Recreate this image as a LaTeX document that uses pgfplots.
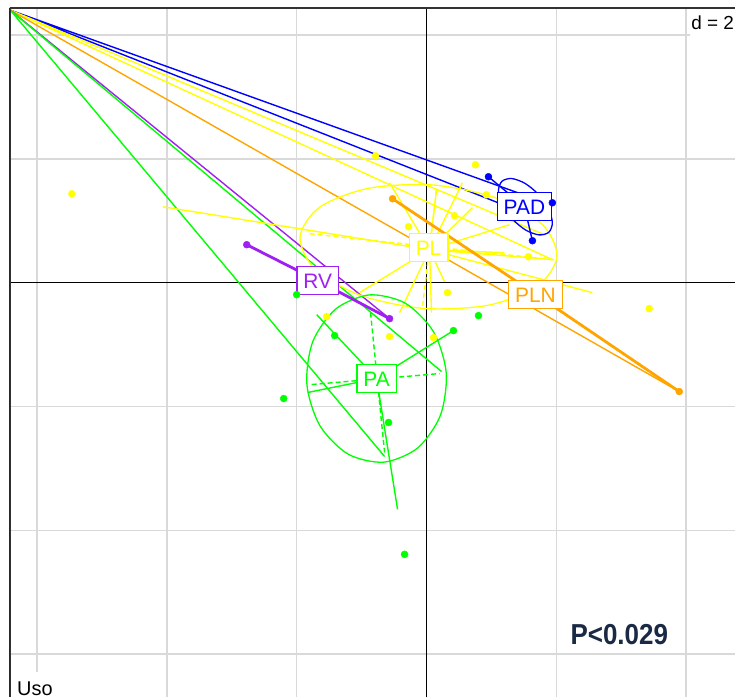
\documentclass[border=0pt]{standalone}
\usepackage{pgfplots}
\pgfplotsset{compat=1.18}
\usepackage{fontspec}
\setmainfont{Liberation Sans}
\definecolor{cblue}{RGB}{0,0,255}
\definecolor{cyellow}{RGB}{255,255,0}
\definecolor{corange}{RGB}{255,165,0}
\definecolor{cpurple}{RGB}{160,32,240}
\definecolor{cgreen}{RGB}{0,255,0}
\definecolor{cnavy}{RGB}{26,42,68}
\definecolor{cgrid}{RGB}{217,217,217}
\tikzset{
  lab/.style={fill=white, line width=1.4bp, font=\fontsize{21}{21}\selectfont,
    inner xsep=6.5bp, inner ysep=6.5bp, text height=15bp, text depth=0bp},
  dsh/.style={dash pattern=on 5bp off 3bp},
}
\begin{document}
\begin{tikzpicture}
\begin{axis}[
  scale only axis, width=726bp, height=690bp,
  xmin=-6.415, xmax=4.754, ymin=-6.694, ymax=4.435,
  axis x line*=top, axis y line*=left,
  axis line style={-, draw=black!85, line width=1.6bp},
  xtick={-6,-4,-2,0,2,4}, ytick={-6,-4,-2,0,2,4},
  xticklabels={{},{},{},{},{},{}}, yticklabels={{},{},{},{},{},{}}, major tick length=0pt,
  grid=major, grid style={draw=cgrid, line width=1.6bp},
  unbounded coords=jump,
]
% zero lines
\addplot[black, line width=1.4bp] coordinates {(0,-6.694) (0,4.435)};
\addplot[black, line width=1.4bp] coordinates {(-6.415,0) (4.754,0)};

% ---- lines from the corner sample
\addplot[cblue, line width=1.4bp] coordinates {(-6.41,4.40) (1.492,1.419) (nan,nan) (-6.41,4.40) (1.492,1.129)};
\addplot[cyellow, line width=1.4bp] coordinates {(-6.41,4.40) (1.815,0.774) (nan,nan) (-6.41,4.40) (1.938,0.371)};
\addplot[corange, line width=1.4bp] coordinates {(-6.41,4.40) (3.892,-1.758)};
\addplot[cpurple, line width=1.4bp] coordinates {(-6.41,4.40) (-0.569,-0.581)};
\addplot[cgreen, line width=1.4bp] coordinates {(-6.41,4.40) (-0.646,-2.806) (nan,nan) (-6.41,4.40) (0.231,-1.435)};

% ---- PL (yellow)
\addplot[cyellow, line width=1.3bp, smooth cycle, tension=0.5] coordinates {
(2.009,0.421) (1.708,-0.056) (0.957,-0.363) (-0.043,-0.416) (-1.022,-0.203) (-1.720,0.221)
(-1.948,0.740) (-1.646,1.218) (-0.895,1.523) (0.105,1.577) (1.083,1.363) (1.782,0.940)};
\addplot[cyellow, line width=1.4bp] coordinates {
(0.046,0.532) (-4.062,1.226) (nan,nan)
(0.046,0.532) (-0.569,1.613) (nan,nan)
(0.046,0.532) (0.154,1.500) (nan,nan)
(0.046,0.532) (0.554,1.613) (nan,nan)
(0.046,0.532) (0.708,1.210) (nan,nan)
(0.046,0.532) (1.277,0.935) (nan,nan)
(0.046,0.532) (1.200,0.484) (nan,nan)
(0.046,0.532) (1.969,0.371) (nan,nan)
(0.046,0.532) (2.554,-0.161) (nan,nan)
(0.046,0.532) (-1.031,-0.161) (nan,nan)
(0.046,0.532) (-0.415,-0.484) (nan,nan)
(0.046,0.532) (0.077,-0.484) (nan,nan)
(0.046,0.532) (0.277,0.016)};
\addplot[cyellow, line width=1.4bp, dsh] coordinates {(-1.8,0.790) (1.938,0.371) (nan,nan) (0.154,1.5) (-0.062,-0.387)};

% ---- PA (green)
\addplot[cgreen, line width=1.3bp, smooth cycle, tension=0.5] coordinates {
(0.303,-1.450) (0.215,-2.139) (-0.135,-2.668) (-0.657,-2.898) (-1.208,-2.768) (-1.642,-2.310)
(-1.842,-1.647) (-1.754,-0.958) (-1.402,-0.429) (-0.882,-0.198) (-0.329,-0.331) (0.105,-0.789)};
\addplot[cgreen, line width=1.4bp] coordinates {
(-0.769,-1.548) (-1.692,-0.516) (nan,nan)
(-0.769,-1.548) (0.415,-0.774) (nan,nan)
(-0.769,-1.548) (-1.831,-1.774) (nan,nan)
(-0.769,-1.548) (-0.446,-3.661)};
\addplot[cgreen, line width=1.4bp, dsh] coordinates {(-1.769,-1.645) (0.2,-1.468) (nan,nan) (-0.862,-0.484) (-0.646,-2.742)};

% ---- PAD (blue)
\addplot[cblue, line width=1.3bp, smooth cycle, tension=0.5] coordinates {
(1.885,0.815) (1.735,0.771) (1.529,0.848) (1.320,1.029) (1.168,1.260) (1.108,1.484)
(1.162,1.637) (1.311,1.681) (1.517,1.603) (1.726,1.423) (1.880,1.190) (1.938,0.968)};
\addplot[cblue, line width=1.4bp] coordinates {
(1.508,1.226) (0.954,1.710) (nan,nan)
(1.508,1.226) (1.938,1.290) (nan,nan)
(1.508,1.226) (1.631,0.677)};

% ---- PLN (orange) and RV (purple)
\addplot[corange, line width=2.8bp] coordinates {(-0.523,1.355) (1.692,-0.194) (3.892,-1.758)};
\addplot[cpurple, line width=2.8bp] coordinates {(-2.769,0.613) (-1.677,0.032) (-0.569,-0.581)};

% ---- points
\addplot[only marks, mark=*, mark size=3.5bp, cyellow] coordinates {
(-5.462,1.435) (-0.785,2.048) (0.754,1.903) (0.923,1.419) (0.431,1.081) (-0.277,0.903)
(1.569,0.419) (0.323,-0.161) (3.431,-0.419) (-1.538,-0.548) (-0.569,-0.871) (0.108,-0.887)};
\addplot[only marks, mark=*, mark size=3.5bp, cgreen] coordinates {
(-2.0,-0.194) (-1.415,-0.855) (0.415,-0.774) (0.8,-0.532) (-2.2,-1.871) (-0.585,-2.258) (-0.338,-4.387)};
\addplot[only marks, mark=*, mark size=3.5bp, cblue] coordinates {(0.954,1.710) (1.938,1.290) (1.631,0.677)};
\addplot[only marks, mark=*, mark size=3.5bp, corange] coordinates {(-0.523,1.355) (3.892,-1.758)};
\addplot[only marks, mark=*, mark size=3.5bp, cpurple] coordinates {(-2.769,0.613) (-0.569,-0.581)};

% ---- class labels
\node[lab, draw=cblue, text=cblue] at (axis cs:1.508,1.226) {PAD};
\node[lab, draw=cyellow, text=cyellow] at (axis cs:0.031,0.565) {PL};
\node[lab, draw=corange, text=corange] at (axis cs:1.677,-0.194) {PLN};
\node[lab, draw=cpurple, text=cpurple] at (axis cs:-1.677,0.032) {RV};
\node[lab, draw=cgreen, text=cgreen] at (axis cs:-0.769,-1.548) {PA};

% ---- annotations
\node[anchor=north east, fill=white, font=\fontsize{19}{19}\selectfont, inner xsep=1bp, inner ysep=7bp, text height=14bp, text depth=0bp]
  at (rel axis cs:1,1) {d = 2};
\node[anchor=base west, fill=white, font=\fontsize{20}{20}\selectfont, inner xsep=7bp, inner ysep=9bp, text height=14.5bp, text depth=2bp]
  at (axis cs:-6.415,-6.661) {Uso};
\node[text=cnavy, font=\bfseries\fontsize{29}{29}\selectfont, xscale=0.9] at (axis cs:2.969,-5.677) {P<0.029};
% frame
\addplot[black!80, line width=2bp] coordinates {(-6.415,-6.694) (-6.415,4.435) (4.754,4.435)};
\end{axis}
\path ([shift={(-10bp,8bp)}]current axis.north west);
\end{tikzpicture}
\end{document}
